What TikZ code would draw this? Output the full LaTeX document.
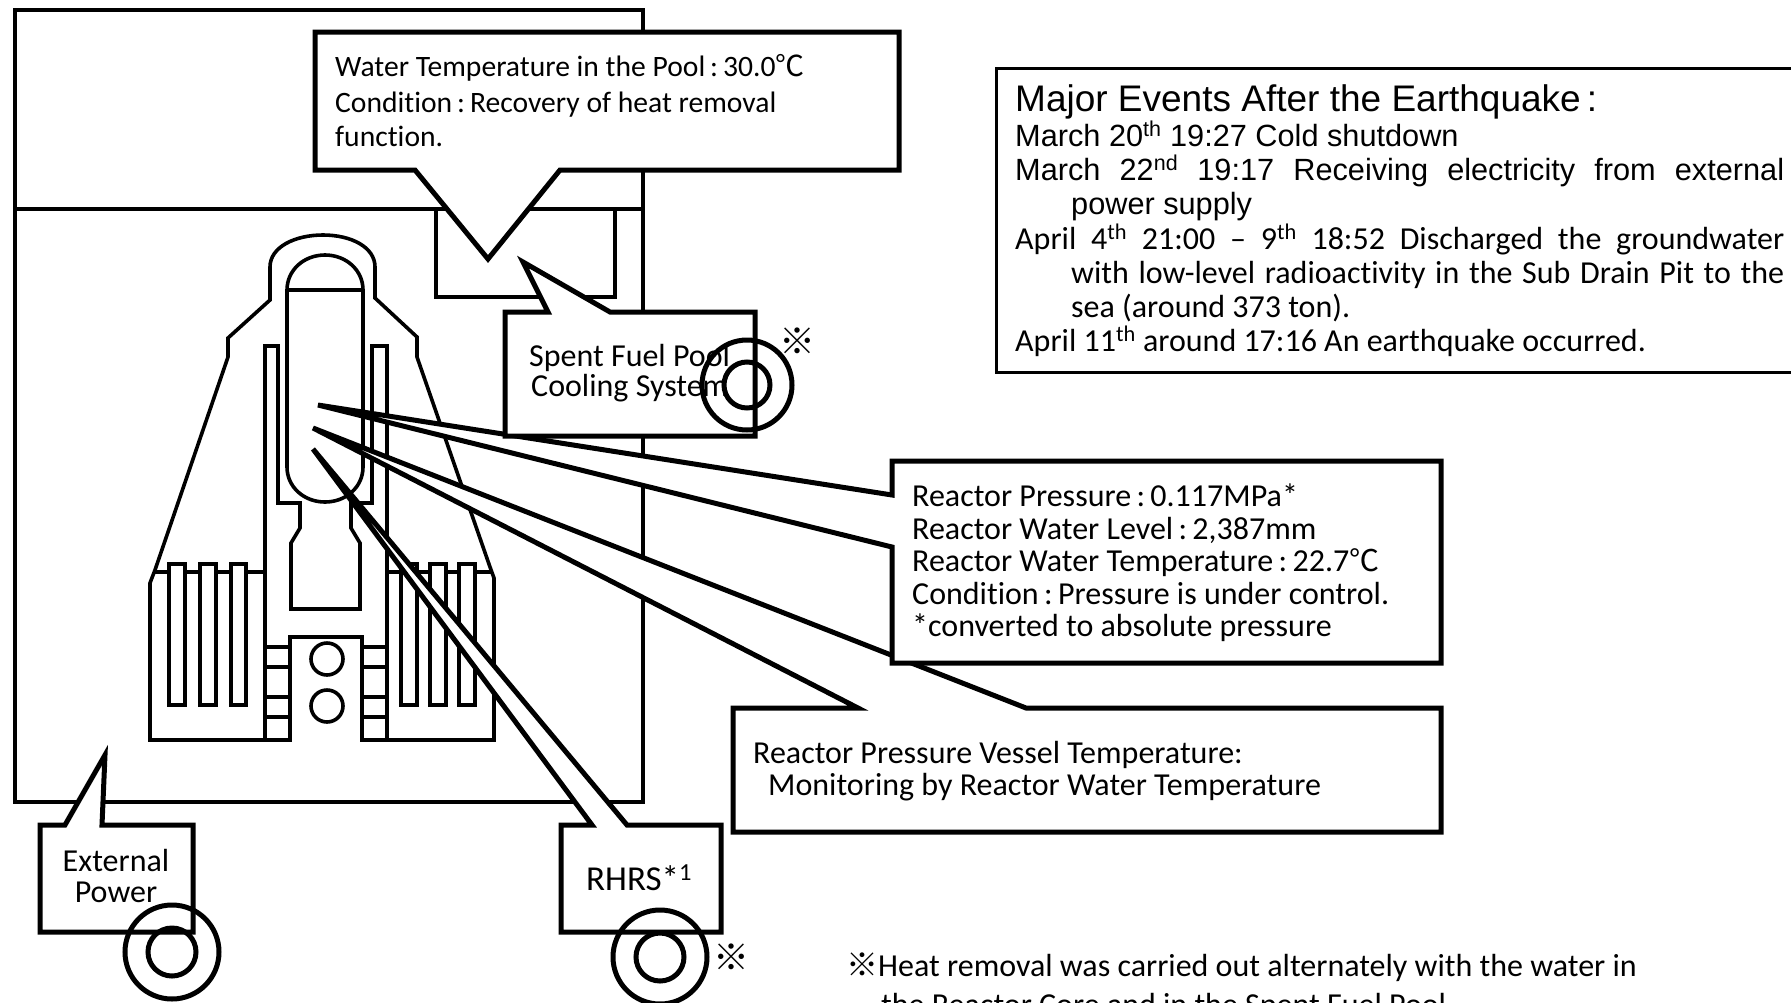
\documentclass[tikz,border=0pt]{standalone}
\usepackage{fontspec}
\setmainfont[Ligatures=NoCommon]{Carlito}
\newfontfamily\arialf{Liberation Sans}
\newfontfamily\cjkf{Noto Sans CJK JP}
\newcommand{\carl}{\fontsize{32}{36}\selectfont}
\newcommand{\poolf}{\fontsize{29.6}{35}\selectfont}
\newcommand{\degc}{{\cjkf\fontsize{30}{35}\selectfont ℃}}
\newcommand{\refm}{{\cjkf ※}}
\tikzset{
  wall/.style={draw=black,line width=3.6pt,line join=miter},
  callout/.style={draw=black,fill=white,line width=5pt,line join=miter},
  ring/.style={draw=black,line width=5pt},
  lbl/.style={anchor=base west,inner sep=0pt,font=\carl,text=black},
  pl/.style={lbl,font=\poolf},
  arl/.style={anchor=base west,inner sep=0pt,font=\arialf\fontsize{30.7}{35}\selectfont,text=black},
  mark sym/.style={anchor=center,inner sep=0pt,font=\cjkf\fontsize{36}{36}\selectfont,text=black},
  fin/.style={draw=black,fill=white,line width=4pt},
}
\begin{document}
\begin{tikzpicture}[x=1pt,y=-1pt]
\useasboundingbox (0,0) rectangle (1791,1002);
\clip (0,0) rectangle (1791,1002);
\fill[white] (0,0) rectangle (1791,1002);
% building
\draw[wall] (15,10) rectangle (643,802);
\draw[wall] (15,209) -- (643,209);
\draw[wall] (436,209) -- (436,297) -- (615,297) -- (615,209);
% containment
\draw[wall] (150,740) -- (150,583) -- (155,570) -- (228,357) -- (228,338) -- (270,300) -- (270,267)
  .. controls (270,247) and (295,235) .. (323,235) .. controls (351,235) and (375,247) .. (375,267)
  -- (375,298) -- (417,337) -- (417,357) -- (490,567) -- (494,578) -- (494,740) -- (362,740) -- (362,637)
  -- (290,637) -- (290,740) -- cycle;
% pedestal
\draw[wall] (265,740) -- (265,346) -- (278,346) -- (278,503) -- (300,503) -- (300,528) -- (291,543) -- (291,609)
  -- (360,609) -- (360,543) -- (351,528) -- (351,503) -- (372,503) -- (372,346) -- (387,346) -- (387,740);
% vessel
\draw[wall,fill=white] (287,290) -- (287,467) .. controls (287,487) and (304,502) .. (325,502)
  .. controls (346,502) and (363,487) .. (363,467) -- (363,290)
  .. controls (363,270) and (346,255) .. (325,255) .. controls (304,255) and (287,270) .. (287,290) -- cycle;
\draw[wall] (287,290) -- (363,290);
% suppression rails and fins
\draw[wall] (153,572) -- (265,572);
\draw[wall] (387,572) -- (491,572);
\foreach \xa/\xb in {169/185,200/216,231/246,401/417,430/446,459/475}
  \draw[fin] (\xa,564) rectangle (\xb,705);
% small cells
\foreach \yy in {647,667,697,717} {
  \draw[wall] (265,\yy) -- (290,\yy);
  \draw[wall] (362,\yy) -- (387,\yy);
}
\draw[wall] (327,659) circle (16);
\draw[wall] (327,706) circle (16);

% callouts
\draw[callout] (733,708) -- (858,708) -- (313,428) -- (1026,708) -- (1441,708) -- (1441,832) -- (733,832) -- cycle;
\draw[callout] (892,461) -- (1441,461) -- (1441,663) -- (892,663) -- (892,547) -- (318,405) -- (892,495) -- cycle;
\draw[callout] (561,825) -- (592,825) -- (313,449) -- (627,825) -- (721,825) -- (721,932) -- (561,932) -- cycle;
\draw[callout] (40,825) -- (65,825) -- (105,755) -- (102,825) -- (193,825) -- (193,932) -- (40,932) -- cycle;
\draw[callout] (505,312) -- (548,312) -- (523,262) -- (610,312) -- (755,312) -- (755,436) -- (505,436) -- cycle;
\draw[callout] (315,32) -- (899,32) -- (899,170) -- (560,170) -- (488,259) -- (415,170) -- (315,170) -- cycle;

% events box
\draw[wall,line width=3pt] (1800,68) -- (996,68) -- (996,372) -- (1800,372);

% labels
\node[pl] (p1) at (335,76) {Water Temperature in the Pool\,:\,30.0{\cjkf\fontsize{29}{35}\selectfont ℃}};
\node[pl] (p2) at (335,112) {Condition\,:\,Recovery of heat removal};
\node[pl] (p3) at (335,146) {function.};
\node[lbl] (sf1) at (529,366) {Spent Fuel Pool};
\node[lbl] (sf2) at (531,396) {Cooling System};
\node[lbl] (r1) at (912,506) {Reactor Pressure\,:\,0.117MPa*};
\node[lbl] (r2) at (912,539) {Reactor Water Level\,:\,2,387mm};
\node[lbl] (r3) at (912,571) {Reactor Water Temperature\,:\,22.7\degc};
\node[lbl] (r4) at (912,604) {Condition\,:\,Pressure is under control.};
\node[lbl] (r5) at (912,636) {*converted to absolute pressure};
\node[lbl] (v1) at (753,763) {Reactor Pressure Vessel Temperature:};
\node[lbl] (v2) at (768,795) {Monitoring by Reactor Water Temperature};
\node[lbl,anchor=base] (e1) at (116,871) {External};
\node[lbl,anchor=base] (e2) at (116,902) {Power};
\node[lbl,font=\fontsize{35}{36}\selectfont] (rh) at (586,890) {RHRS*\textsuperscript{1}};
\node[arl,font=\arialf\fontsize{37}{40}\selectfont] (h) at (1015,111) {Major Events After the Earthquake\,:};
\node[arl] (m1) at (1015,146) {March 20\textsuperscript{th} 19:27 Cold shutdown};
\node[arl] (m2) at (1015,180) {\makebox[769pt][s]{March 22\textsuperscript{nd} 19:17 Receiving electricity from external}};
\node[arl] (m3) at (1071,214) {power supply};
\node[lbl] (m4) at (1015,249) {\makebox[769pt][s]{April 4\textsuperscript{th} 21:00 -- 9\textsuperscript{th} 18:52 Discharged the groundwater}};
\node[lbl] (m5) at (1071,283) {\makebox[713pt][s]{with low-level radioactivity in the Sub Drain Pit to the}};
\node[lbl] (m6) at (1071,317) {sea (around 373 ton).};
\node[lbl] (m7) at (1015,351) {April 11\textsuperscript{th} around 17:16 An earthquake occurred.};
\node[lbl] (n1) at (846,976) {\refm Heat removal was carried out alternately with the water in};
\node[lbl] (n2) at (881,1015) {the Reactor Core and in the Spent Fuel Pool.};
\node[mark sym] (s1) at (797,341) {※};
\node[mark sym] (s2) at (731,957) {※};

% pump rings
\draw[ring] (172,952) circle (47);
\draw[ring] (172,952) circle (24);
\draw[ring] (660,957) circle (47);
\draw[ring] (660,957) circle (24);
\draw[ring] (747,385) circle (45);
\draw[ring] (747,385) circle (23);
\end{tikzpicture}
\end{document}
